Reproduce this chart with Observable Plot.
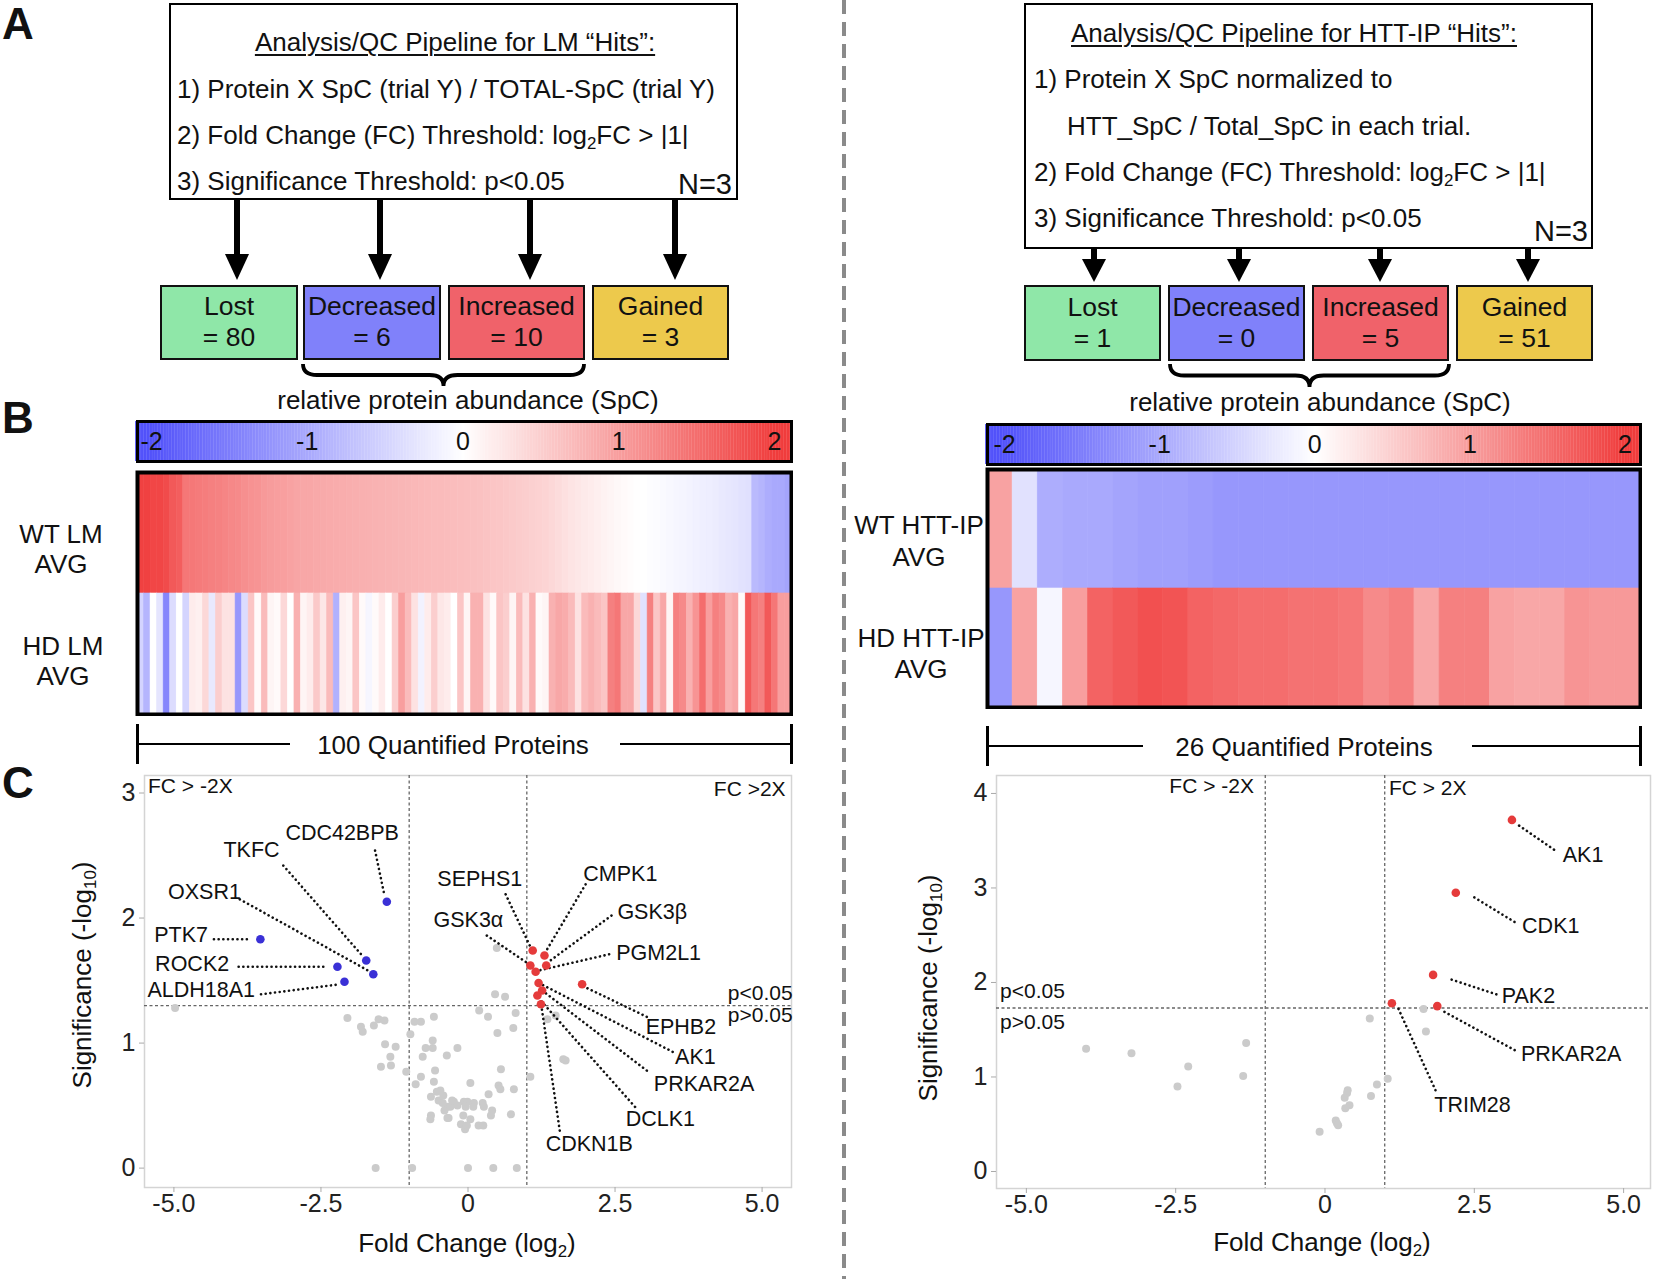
<!DOCTYPE html>
<html><head><meta charset="utf-8">
<script src="https://cdn.jsdelivr.net/npm/d3@7"></script>
<script src="https://cdn.jsdelivr.net/npm/@observablehq/plot@0.6"></script>
<style>
body{margin:0;background:#fff;}
#root{position:relative;width:1654px;height:1279px;overflow:hidden;font-family:"Liberation Sans",Arial,Helvetica,sans-serif;color:#111;background:#fff;}
.t{position:absolute;white-space:nowrap;line-height:1;}
.t sub{font-size:0.65em;vertical-align:-0.3em;line-height:0;}
.abs{position:absolute;box-sizing:border-box;}
</style></head><body><div id="root"></div>
<script>
// ---------------- DATA ----------------
const pipelineCategories = ["Lost", "Decreased", "Increased", "Gained"];
const lmCounts = [80, 6, 10, 3];
const httCounts = [1, 0, 5, 51];

const colorbarTicks = [-2, -1, 0, 1, 2];

// relative protein abundance, LM (100 quantified proteins)
const wtLM = [1.95,1.95,1.9,1.9,1.85,1.7,1.65,1.4,1.38,1.35,1.33,1.3,1.28,1.25,1.22,
  1.2,1.15,1.12,1.1,1.05,1.02,1.0,0.98,0.95,0.92,
  0.9,0.9,0.88,0.87,0.86,0.85,0.84,0.83,0.82,0.81,0.8,0.79,0.78,0.77,0.76,0.75,0.74,0.73,0.72,0.71,0.7,0.7,0.69,0.68,0.67,
  0.66,0.65,0.64,0.62,0.6,0.58,0.56,0.54,0.52,0.5,0.48,0.46,0.44,
  0.4,0.36,0.32,0.28,0.25,0.22,0.19,0.16,0.13,0.1,0.07,0.05,0.03,
  0.01,0,-0.02,-0.04,-0.06,
  -0.08,-0.1,-0.12,-0.14,-0.16,-0.18,-0.2,-0.22,-0.25,-0.28,-0.3,-0.33,-0.36,
  -0.8,-0.85,-0.95,-1.0,-1.0,-1.05];
const hdLM = [-0.5,-0.85,0.0,-0.3,-1.4,-0.4,0.0,-0.5,0.2,0.15,0.4,-0.25,0.5,0.3,0.3,-1.2,-0.4,0.6,0.05,0.7,
  0.1,0.05,0.4,0.0,0.8,0.1,0.2,0.55,0.25,0.7,-0.9,0.15,0.1,0.6,0.05,-0.1,0.05,0.2,0.0,0.5,
  1.0,0.7,0.3,-0.15,0.2,0.5,0.25,0.2,0.0,0.6,
  0.1,0.8,0.8,0.3,0.05,0.6,0.5,0.1,0.7,0.3,0.8,0.05,0.1,0.8,0.9,0.85,0.7,0.3,0.7,0.8,
  0.7,0.6,1.3,1.4,0.9,0.9,0.4,-0.35,1.3,0.6,0.9,0.1,1.3,1.2,0.8,1.1,1.5,1.0,1.3,1.2,
  0.8,0.9,0.05,1.7,1.4,1.3,1.7,1.4,1.0,1.0];

// relative protein abundance, HTT-IP (26 quantified proteins)
const wtHTT = [0.95,-0.35,-0.95,-1.0,-1.0,-1.05,-1.1,-1.1,-1.15,-1.2,-1.2,-1.2,-1.2,-1.2,-1.2,-1.2,-1.2,-1.2,-1.2,-1.2,-1.2,-1.2,-1.2,-1.2,-1.2,-1.2];
const hdHTT = [-1.2,0.95,-0.1,1.0,1.6,1.7,1.8,1.75,1.6,1.55,1.5,1.5,1.45,1.45,1.4,1.2,1.3,0.9,1.3,1.3,0.95,0.9,0.9,1.1,1.05,1.05];

// volcano LM: non-hit proteins [log2 FC, -log10 p]
const lmOther = [[-4.98,1.28],
  [0.49,1.76],[0.46,1.39],[0.63,1.37],[0.19,1.26],[0.34,1.21],[0.81,1.24],[0.77,1.12],[0.50,1.08],
  [1.35,1.19],[1.49,1.22],[1.62,0.87],[1.66,0.86],[1.06,0.73],
  [-2.05,1.20],[-1.82,1.13],[-1.79,1.09],[-1.52,1.19],[-1.42,1.18],[-1.60,1.14],
  [-0.91,1.17],[-0.80,1.17],[-0.58,1.21],[-0.98,1.07],[-0.60,1.02],
  [-1.41,0.99],[-1.23,0.97],[-1.32,0.89],[-1.48,0.81],[-1.31,0.82],
  [-0.72,0.96],[-0.60,0.96],[-0.18,0.96],[-0.77,0.89],[-0.36,0.90],
  [-1.05,0.77],[-0.80,0.73],[-0.56,0.78],[-0.89,0.67],[-0.58,0.69],[0.04,0.68],
  [0.56,0.79],[0.52,0.66],[0.55,0.63],[0.78,0.63],[0.35,0.59],
  [-0.47,0.62],[-0.42,0.58],[-0.63,0.57],[-0.50,0.54],[-0.43,0.52],[-0.35,0.49],[-0.24,0.53],[-0.30,0.49],
  [-0.07,0.53],[-0.01,0.53],[0.10,0.52],[0.25,0.52],[-0.18,0.50],[-0.04,0.49],[0.27,0.49],[0.41,0.46],
  [-0.63,0.42],[-0.64,0.39],[-0.35,0.40],[-0.33,0.40],[-0.08,0.42],[0.39,0.42],[0.73,0.43],[0.04,0.39],
  [-0.12,0.35],[-0.05,0.31],[-0.02,0.34],[0.18,0.34],[0.26,0.34],
  [-1.57,0],[-0.95,0],[0,0],[0.43,0],[0.83,0],
  [-0.27,0.54],[0.09,0.49],[-0.53,0.61],[-0.40,0.46]];
const lmHitNames = ["CDC42BPB","TKFC","OXSR1","PTK7","ROCK2","ALDH18A1","SEPHS1","CMPK1","GSK3β","GSK3α","PGM2L1","EPHB2","AK1","PRKAR2A","DCLK1","CDKN1B"];
const lmHitFC  = [-1.38,-1.73,-1.61,-3.53,-2.22,-2.10,1.10,1.30,1.33,1.06,1.15,1.94,1.20,1.26,1.18,1.24];
const lmHitSig = [2.13,1.66,1.55,1.83,1.61,1.49,1.74,1.70,1.62,1.62,1.57,1.47,1.48,1.42,1.38,1.31];

// volcano HTT-IP
const httOther = [[-4.0,1.30],[-3.24,1.25],[-2.29,1.11],[-2.47,0.90],[-1.32,1.36],[-1.37,1.01],
  [0.75,1.62],[1.65,1.72],[1.69,1.48],[1.05,0.98],[0.87,0.92],[0.77,0.80],[0.38,0.86],[0.37,0.83],
  [0.33,0.78],[0.41,0.70],[0.34,0.67],[0.18,0.54],[0.20,0.51],[0.22,0.49],[-0.09,0.42]];
const httHitNames = ["AK1","CDK1","PAK2","PRKAR2A","TRIM28"];
const httHitFC  = [3.13,2.19,1.81,1.88,1.12];
const httHitSig = [3.72,2.95,2.08,1.75,1.78];

const xTicks = [-5, -2.5, 0, 2.5, 5];
const lmYTicks = [0, 1, 2, 3];
const httYTicks = [0, 1, 2, 3, 4];
const fcThresholds = [-1, 1];
const lmPThreshold = 1.30;
const httPThreshold = 1.73;

// ---------------- LAYOUT (annotation placement, data units) ----------------
const lmLabelLayout = [
  {name:"CDC42BPB", tx:-2.14, ty:2.68, a:"middle", x1:-1.58, y1:2.54, x2:-1.42, y2:2.18},
  {name:"TKFC",     tx:-3.68, ty:2.54, a:"middle", x1:-3.14, y1:2.42, x2:-1.78, y2:1.69},
  {name:"OXSR1",    tx:-4.48, ty:2.21, a:"middle", x1:-3.88, y1:2.15, x2:-1.66, y2:1.57},
  {name:"PTK7",     tx:-4.42, ty:1.86, a:"end",    x1:-4.32, y1:1.83, x2:-3.72, y2:1.83},
  {name:"ROCK2",    tx:-4.06, ty:1.63, a:"end",    x1:-3.90, y1:1.61, x2:-2.40, y2:1.61},
  {name:"ALDH18A1", tx:-3.62, ty:1.42, a:"end",    x1:-3.52, y1:1.39, x2:-2.18, y2:1.47},
  {name:"SEPHS1",   tx:0.20,  ty:2.31, a:"middle", x1:0.64,  y1:2.19, x2:1.05,  y2:1.78},
  {name:"CMPK1",    tx:1.96,  ty:2.35, a:"start",  x1:2.00,  y1:2.27, x2:1.32,  y2:1.73},
  {name:"GSK3β",    tx:2.54,  ty:2.05, a:"start",  x1:2.44,  y1:2.02, x2:1.37,  y2:1.65},
  {name:"GSK3α",    tx:0.60,  ty:1.98, a:"end",    x1:0.32,  y1:1.86, x2:1.01,  y2:1.64},
  {name:"PGM2L1",   tx:2.52,  ty:1.72, a:"start",  x1:2.40,  y1:1.71, x2:1.20,  y2:1.58},
  {name:"EPHB2",    tx:3.02,  ty:1.13, a:"start",  x1:3.04,  y1:1.21, x2:1.98,  y2:1.45},
  {name:"AK1",      tx:3.52,  ty:0.89, a:"start",  x1:3.48,  y1:0.93, x2:1.25,  y2:1.47},
  {name:"PRKAR2A",  tx:3.16,  ty:0.67, a:"start",  x1:3.04,  y1:0.78, x2:1.29,  y2:1.41},
  {name:"DCLK1",    tx:2.68,  ty:0.39, a:"start",  x1:2.84,  y1:0.49, x2:1.20,  y2:1.36},
  {name:"CDKN1B",   tx:1.32,  ty:0.19, a:"start",  x1:1.56,  y1:0.30, x2:1.25,  y2:1.29}
];
const httLabelLayout = [
  {name:"AK1",     tx:3.98, ty:3.35, a:"start", x1:3.25, y1:3.66, x2:3.87, y2:3.39},
  {name:"CDK1",    tx:3.30, ty:2.60, a:"start", x1:2.50, y1:2.90, x2:3.20, y2:2.63},
  {name:"PAK2",    tx:2.96, ty:1.86, a:"start", x1:2.12, y1:2.03, x2:2.89, y2:1.87},
  {name:"PRKAR2A", tx:3.28, ty:1.24, a:"start", x1:2.00, y1:1.69, x2:3.19, y2:1.28},
  {name:"TRIM28",  tx:1.83, ty:0.70, a:"start", x1:1.23, y1:1.72, x2:1.85, y2:0.86}
];
const lmNotes = [
  {text:"FC > -2X", x:-5.44, y:3.05, a:"start"},
  {text:"FC >2X",   x:5.40,  y:3.03, a:"end"},
  {text:"p<0.05",   x:5.52,  y:1.40, a:"end"},
  {text:"p>0.05",   x:5.52,  y:1.22, a:"end"}
];
const httNotes = [
  {text:"FC > -2X", x:-1.19, y:4.08, a:"end"},
  {text:"FC > 2X",  x:1.07,  y:4.06, a:"start"},
  {text:"p<0.05",   x:-5.44, y:1.91, a:"start"},
  {text:"p>0.05",   x:-5.44, y:1.58, a:"start"}
];

// ---------------- STYLE ----------------
const FONT = '"Liberation Sans", Arial, Helvetica, sans-serif';
const MAIN = 26;
const boxColors = ["#8fe7a8", "#8081fa", "#f0626a", "#edc94c"];
const colorSpec = {type:"linear", domain:[-2,0,2], range:["#5252fa","#ffffff","#f03c3c"], interpolate:"rgb", clamp:true};
const root = document.getElementById("root");

function T(x, y, html, o = {}) {
  const d = document.createElement("div");
  d.className = "t";
  d.innerHTML = html;
  const size = o.size ?? MAIN;
  const ax = o.anchor === "middle" ? "-50%" : o.anchor === "end" ? "-100%" : "0";
  d.style.left = x + "px"; d.style.top = y + "px";
  d.style.fontSize = size + "px";
  d.style.fontWeight = o.weight || "normal";
  d.style.transform = `translate(${ax},-50%)` + (o.rotate ? ` rotate(${o.rotate}deg)` : "");
  if (o.underline) { d.style.textDecoration = "underline"; d.style.textUnderlineOffset = "3px"; d.style.textDecorationThickness = "1.6px"; }
  root.appendChild(d);
  return d;
}
function R(x, y, w, h, css) {
  const d = document.createElement("div");
  d.className = "abs";
  d.style.cssText += `left:${x}px;top:${y}px;width:${w}px;height:${h}px;` + (css || "");
  root.appendChild(d);
  return d;
}
function arrow(x, y0, y1, y2, hw) {
  R(x - 3, y0, 6, y1 - y0 + 1, "background:#000;");
  R(x - hw / 2, y1, 0, 0, `width:0;height:0;border-left:${hw/2}px solid transparent;border-right:${hw/2}px solid transparent;border-top:${y2-y1}px solid #000;`);
}
function brace(x0, x1, y0, y1) {
  const ns = "http://www.w3.org/2000/svg";
  const s = document.createElementNS(ns, "svg");
  const W = x1 - x0, H = y1 - y0, r = 14;
  s.setAttribute("width", W + 8); s.setAttribute("height", H + 8);
  s.style.cssText = `position:absolute;left:${x0-4}px;top:${y0-4}px;`;
  const p = document.createElementNS(ns, "path");
  const m = H / 2, c = W / 2;
  p.setAttribute("d", `M4,4 Q4,${4+m} ${4+r},${4+m} L${4+c-r},${4+m} Q${4+c},${4+m} ${4+c},${4+H} Q${4+c},${4+m} ${4+c+r},${4+m} L${4+W-r},${4+m} Q${4+W},${4+m} ${4+W},4`);
  p.setAttribute("fill", "none"); p.setAttribute("stroke", "#000"); p.setAttribute("stroke-width", "3.8");
  s.appendChild(p); root.appendChild(s);
}
function place(svg, x, y) {
  svg.style.position = "absolute"; svg.style.left = x + "px"; svg.style.top = y + "px";
  root.appendChild(svg);
}

// ---------------- PANEL A ----------------
function pipeline(cfg) {
  R(cfg.box[0], cfg.box[1], cfg.box[2], cfg.box[3], "border:2.5px solid #000;background:#fff;");
  cfg.lines.forEach(l => T(l[0], l[1], l[2], {anchor: l[3] || "start", underline: l[4], size: l[5]}));
  cfg.arrows.forEach(ax => arrow(ax, cfg.arrowY[0], cfg.arrowY[1], cfg.arrowY[2], 24));
  pipelineCategories.forEach((c, i) => {
    const [bx, bw] = cfg.cats[i];
    R(bx, cfg.catY, bw, cfg.catH, `border:2.5px solid #111;background:${boxColors[i]};`);
    T(bx + bw / 2, cfg.catTextY[0], c, {anchor:"middle", size: 26.5});
    T(bx + bw / 2, cfg.catTextY[1], "= " + cfg.counts[i], {anchor:"middle", size: 26.5});
  });
  brace(cfg.brace[0], cfg.brace[1], cfg.brace[2], cfg.brace[3]);
  T(cfg.rpa[0], cfg.rpa[1], "relative protein abundance (SpC)", {anchor:"middle"});
}
pipeline({
  box:[169, 3, 569, 197],
  lines:[
    [455, 42, "Analysis/QC Pipeline for LM “Hits”:", "middle", true],
    [177, 89, "1) Protein X SpC (trial Y) / TOTAL-SpC (trial Y)"],
    [177, 135, "2) Fold Change (FC) Threshold: log<sub>2</sub>FC &gt; |1|"],
    [177, 181, "3) Significance Threshold: p&lt;0.05"],
    [732, 184, "N=3", "end", false, 29]
  ],
  arrows:[237, 380, 530, 675], arrowY:[199, 254, 280],
  cats:[[160,138],[303,138],[448,137],[592,137]], catY:285, catH:75, catTextY:[306, 337],
  counts: lmCounts, brace:[303, 584, 364, 386], rpa:[468, 400]
});
pipeline({
  box:[1024, 3, 569, 246],
  lines:[
    [1294, 33, "Analysis/QC Pipeline for HTT-IP “Hits”:", "middle", true],
    [1034, 79, "1) Protein X SpC normalized to"],
    [1067, 126, "HTT_SpC / Total_SpC in each trial."],
    [1034, 172, "2) Fold Change (FC) Threshold: log<sub>2</sub>FC &gt; |1|"],
    [1034, 218, "3) Significance Threshold: p&lt;0.05"],
    [1588, 231, "N=3", "end", false, 29]
  ],
  arrows:[1094, 1239, 1380, 1528], arrowY:[248, 259, 282],
  cats:[[1024,137],[1168,137],[1312,137],[1456,137]], catY:285, catH:76, catTextY:[307, 338],
  counts: httCounts, brace:[1170, 1449, 364, 387], rpa:[1320, 402]
});

// ---------------- PANEL B ----------------
function colorbar(x, y, w, h, lo, hi) {
  const stops = d3.range(lo - 0.02, hi + 0.02, 0.01);
  const svg = Plot.plot({
    width: w + 4, height: h + 4, margin: 2,
    x: {domain: [lo, hi], axis: null}, y: {domain: [0, 1], axis: null},
    color: colorSpec, style: {background: "none", fontFamily: FONT},
    marks: [
      Plot.rect(stops, {x1: d => d, x2: d => d + 0.012, y1: 0, y2: 1, fill: d => d}),
      Plot.text(colorbarTicks, {x: d => d, y: 0.5, text: d => String(d), fontSize: 25, fill: "#111", fontFamily: FONT}),
      Plot.frame({stroke: "#000", strokeWidth: 3})
    ]
  });
  place(svg, x - 2, y - 2);
}
function heatmap(wt, hd, x, y, w, h) {
  const cells = [...wt.map((v, i) => ({i, row: "WT", v})), ...hd.map((v, i) => ({i, row: "HD", v}))];
  const svg = Plot.plot({
    width: w + 4, height: h + 4, margin: 2,
    x: {type: "band", domain: d3.range(wt.length), padding: 0, round: false, axis: null},
    y: {type: "band", domain: ["WT", "HD"], padding: 0, round: false, axis: null},
    color: colorSpec, style: {background: "none"},
    marks: [
      Plot.cell(cells, {x: "i", y: "row", fill: "v", stroke: "v", strokeWidth: 0.6, inset: 0}),
      Plot.frame({stroke: "#000", strokeWidth: 4})
    ]
  });
  place(svg, x - 2, y - 2);
}
colorbar(137, 421, 654, 40, -2.09, 2.11);
heatmap(wtLM, hdLM, 137, 472, 654, 242);
colorbar(987, 424, 653, 40, -2.11, 2.10);
heatmap(wtHTT, hdHTT, 987, 469, 653, 238);

T(61, 534, "WT LM", {anchor:"middle"}); T(61, 564, "AVG", {anchor:"middle"});
T(63, 646, "HD LM", {anchor:"middle"}); T(63, 676, "AVG", {anchor:"middle"});
T(919, 525, "WT HTT-IP", {anchor:"middle"}); T(919, 557, "AVG", {anchor:"middle"});
T(921, 638, "HD HTT-IP", {anchor:"middle"}); T(921, 669, "AVG", {anchor:"middle"});

function bracket(x0, x1, y, g0, g1, label, cx) {
  R(x0 - 1.5, y - 20, 3, 40, "background:#000;");
  R(x1 - 1.5, y - 20, 3, 40, "background:#000;");
  R(x0, y - 1.25, g0 - x0, 2.5, "background:#000;");
  R(g1, y - 1.25, x1 - g1, 2.5, "background:#000;");
  T(cx, y + 1, label, {anchor:"middle"});
}
bracket(137, 791, 744, 290, 620, wtLM.length + " Quantified Proteins", 453);
bracket(987, 1640, 746, 1143, 1472, wtHTT.length + " Quantified Proteins", 1304);

// ---------------- PANEL C ----------------
function volcano(cfg) {
  const hits = cfg.names.map((n, i) => ({name: n, fc: cfg.fc[i], sig: cfg.sig[i]}));
  const other = cfg.other.map(([fc, sig]) => ({fc, sig}));
  const txt = (arr, key, fs) => ["start", "middle", "end"].map(a =>
    Plot.text(arr.filter(d => d.a === a), {x: key[0], y: key[1], text: key[2], textAnchor: a, lineAnchor: "middle", fontSize: fs, fill: "#111", fontFamily: FONT}));
  const svg = Plot.plot({
    width: cfg.width, height: cfg.height,
    marginLeft: 84, marginRight: cfg.mr, marginTop: 10, marginBottom: cfg.height - 10 - cfg.fh,
    x: {domain: cfg.xd}, y: {domain: cfg.yd},
    style: {background: "none", fontFamily: FONT, color: "#222"},
    marks: [
      Plot.frame({stroke: "#d4d4d4", strokeWidth: 1.5}),
      Plot.ruleX(fcThresholds, {stroke: "#666", strokeWidth: 1.3, strokeDasharray: "3,2.5"}),
      Plot.ruleY([cfg.p], {stroke: "#666", strokeWidth: 1.3, strokeDasharray: "3,2.5"}),
      Plot.axisX({ticks: xTicks, tickFormat: d => d === 0 ? "0" : d.toFixed(1), tickSize: 5, tickPadding: 2, stroke: "#aaa", fill: "#222", fontSize: 25, label: null}),
      Plot.axisY({ticks: cfg.yTicks, tickFormat: d => String(d), tickSize: 5, tickPadding: 4, stroke: "#aaa", fill: "#222", fontSize: 25, label: null}),
      Plot.dot(other, {x: "fc", y: "sig", r: 4, fill: "#cbcbcb"}),
      Plot.link(cfg.layout, {x1: "x1", y1: "y1", x2: "x2", y2: "y2", stroke: "#111", strokeWidth: 2.6, strokeDasharray: "0.1 4.6", strokeLinecap: "round"}),
      Plot.dot(hits, {x: "fc", y: "sig", r: 4.3, fill: d => d.fc < 0 ? "#3a30d6" : "#e53b3b"}),
      ...txt(cfg.layout, ["tx", "ty", "name"], 21.5),
      ...txt(cfg.notes, ["x", "y", "text"], 21)
    ]
  });
  place(svg, cfg.left, 765);
}
volcano({left: 60, width: 741, height: 472, mr: 10, fh: 412, xd: [-5.5, 5.5], yd: [-0.155, 3.14],
  yTicks: lmYTicks, p: lmPThreshold, other: lmOther, names: lmHitNames, fc: lmHitFC, sig: lmHitSig,
  layout: lmLabelLayout, notes: lmNotes});
volcano({left: 912, width: 742, height: 473, mr: 4, fh: 413, xd: [-5.5, 5.45], yd: [-0.18, 4.19],
  yTicks: httYTicks, p: httPThreshold, other: httOther, names: httHitNames, fc: httHitFC, sig: httHitSig,
  layout: httLabelLayout, notes: httNotes});

T(82, 975, "Significance (-log<sub>10</sub>)", {anchor:"middle", rotate:-90});
T(928, 988, "Significance (-log<sub>10</sub>)", {anchor:"middle", rotate:-90});
T(467, 1243, "Fold Change (log<sub>2</sub>)", {anchor:"middle"});
T(1322, 1242, "Fold Change (log<sub>2</sub>)", {anchor:"middle"});

// panel letters and divider
T(2, 24, "A", {size:44, weight:"bold"});
T(2, 418, "B", {size:44, weight:"bold"});
T(2, 783, "C", {size:44, weight:"bold"});
R(842, 0, 4, 1279, "background:repeating-linear-gradient(to bottom,#8a8a8a 0 14px,transparent 14px 22px);");
</script></body></html>
